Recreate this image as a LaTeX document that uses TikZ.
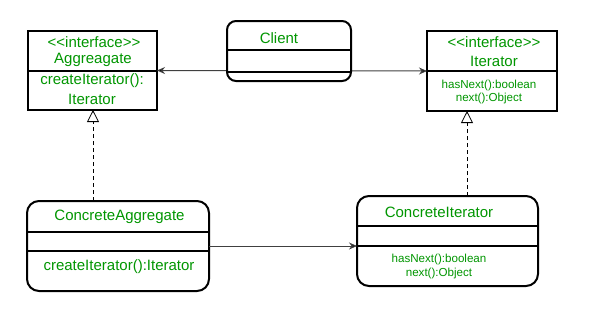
\documentclass[tikz,border=0pt]{standalone}
\usepackage{fontspec}
\setmainfont{Liberation Sans}
\usetikzlibrary{arrows.meta,calc}
\definecolor{txt}{RGB}{0,150,0}
\begin{document}
\begin{tikzpicture}[x=1pt,y=-1pt,
  box/.style={draw,line width=2pt,inner sep=0pt,outer sep=0pt,fill=white},
  rbox/.style={box,rounded corners=12pt},
  div/.style={line width=2pt},
  big/.style={text=txt,font=\fontsize{15}{18}\selectfont,inner sep=0pt},
  small/.style={text=txt,font=\fontsize{11.6}{14}\selectfont,inner sep=0pt,align=center},
  assoc/.style={line width=1pt,draw=black!75,-{Stealth[length=8pt,width=7pt,fill=black]}},
  real/.style={line width=0.8pt,dashed,dash pattern=on 4pt off 3pt,-{Triangle[open,length=12pt,width=12pt,fill=white,line width=0.8pt]}}]
\useasboundingbox (0,0) rectangle (589,319);
% boxes
\node[box,minimum width=129pt,minimum height=79pt] (agg) at (92.5,70.5) {};
\node[box,minimum width=130pt,minimum height=80pt] (it) at (492,71) {};
\node[rbox,minimum width=182pt,minimum height=90pt] (ca) at (118,246) {};
\node[rbox,minimum width=181pt,minimum height=90pt] (ci) at (447.5,241) {};
% associations
\draw[assoc,{Stealth[length=8pt,width=7pt,fill=black]}-{Stealth[length=8pt,width=7pt,fill=black]}] (agg.east) -- (it.west);
\node[box,rounded corners=9pt,minimum width=124pt,minimum height=60pt] (cl) at (289,51) {};
\draw[assoc] (ca.east) -- (ca.east -| ci.west);
% realizations
\coordinate (cat) at (93,201);
\coordinate (cit) at (467,196);
\draw[real] (cat) -- (cat |- agg.south);
\draw[real] (cit) -- (cit |- it.south);
% dividers
\draw[div] (28,71) -- (157,71);
\draw[div] (427,71) -- (557,71);
\draw[div] (227,50) -- (351,50);
\draw[div] (227,72) -- (351,72);
\draw[div] (27,232) -- (209,232);
\draw[div] (27,251) -- (209,251);
\draw[div] (357,226) -- (538,226);
\draw[div] (357,246) -- (538,246);
% texts
\node[big] (t1) at (94,42) {{<}{<}interface{>}{>}};
\node[big] (t2) at (93,60) {Aggreagate};
\node[big] (t3) at (92,81) {createIterator():};
\node[big] (t4) at (92,99) {Iterator};
\node[big] (t5) at (279,38) {Client};
\node[big] (t6) at (494,42) {{<}{<}interface{>}{>}};
\node[big] (t7) at (494,61) {Iterator};
\node[small] (t8) at (489,85) {hasNext():boolean};
\node[small] (t9) at (489,98) {next():Object};
\node[big] (t10) at (119.5,217) {ConcreteAggregate};
\node[big] (t11) at (119,267) {createIterator():Iterator};
\node[big] (t12) at (439,212) {ConcreteIterator};
\node[small] (t13) at (439,259) {hasNext():boolean};
\node[small] (t14) at (439,273) {next():Object};
\end{tikzpicture}
\end{document}
